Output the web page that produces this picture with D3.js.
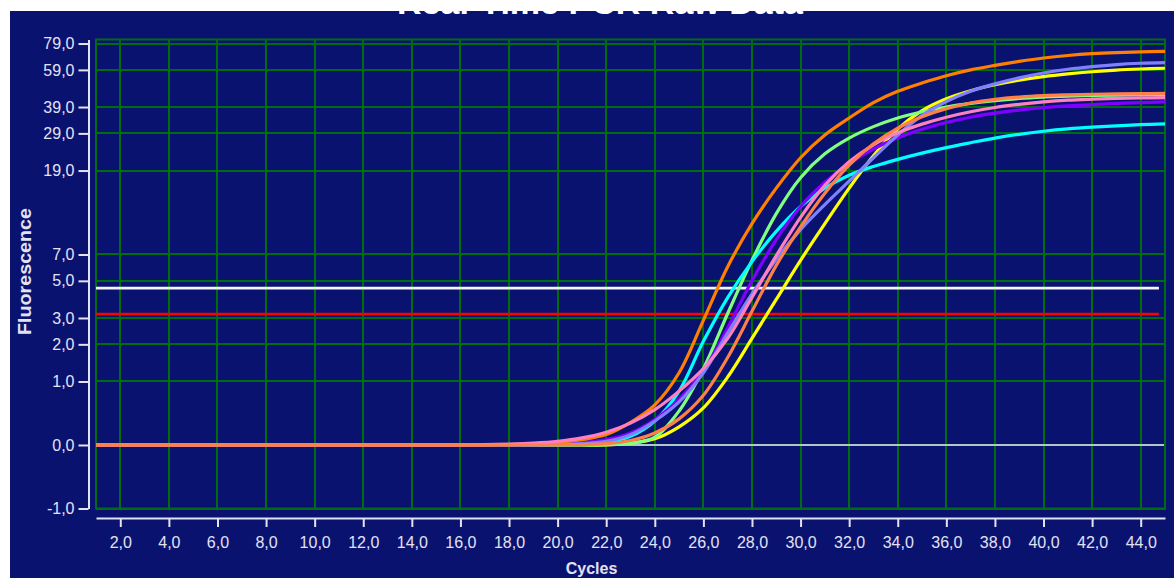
<!DOCTYPE html>
<html>
<head>
<meta charset="utf-8">
<script src="https://cdn.jsdelivr.net/npm/d3@7"></script>
<style>
  html, body { margin: 0; padding: 0; background: #ffffff; }
  svg { display: block; font-family: "Liberation Sans", Arial, sans-serif; }
</style>
</head>
<body>
<script>
// Amplification run: raw fluorescence per cycle for eight wells
const cycles = d3.range(1, 46);

const orange = [0,0,0,0,0,0,0,0,0,0,0,0,0,0,0,0,0,
  0.005,0.01,0.03,0.06,0.12,0.28,0.55,1.2,2.9,6.0,10.2,15.5,22,28.5,34.5,41,46.5,51,55.3,59,62,64.8,67.3,69.2,70.6,71.5,72.1,72.5];
const cyan = [0,0,0,0,0,0,0,0,0,0,0,0,0,0,0,0,0,0,0,
  0.003,0.01,0.03,0.1,0.3,0.8,2.1,4.0,6.4,9.3,12.5,15.5,18,19.9,21.6,23.2,24.7,26.1,27.5,28.7,29.7,30.5,31.1,31.6,32,32.3];
const purple = [0,0,0,0,0,0,0,0,0,0,0,0,0,0,0,0,0,0,
  0.005,0.01,0.025,0.06,0.14,0.32,0.65,1.25,2.6,5.0,8.4,12.5,16.6,20.6,24.3,27.6,30.4,32.8,34.8,36.4,37.7,38.7,39.5,40.1,40.6,41,41.3];
const pink = [0,0,0,0,0,0,0,0,0,0,0,0,0,0,0,0,
  0.005,0.01,0.02,0.04,0.08,0.15,0.27,0.47,0.8,1.3,2.2,4.0,6.9,11,16,21,25.5,29.2,32.2,34.8,37,38.8,40.2,41.3,42.1,42.6,43,43.2,43.3];
const violet = [0,0,0,0,0,0,0,0,0,0,0,0,0,0,0,0,0,0,0,
  0.005,0.015,0.04,0.12,0.3,0.6,1.2,2.4,4.2,6.6,9.5,12.8,16.8,22,28.5,35.5,41.5,46.5,50.5,54,57,59.4,61.2,62.6,63.5,64];
const yellow = [0,0,0,0,0,0,0,0,0,0,0,0,0,0,0,0,0,0,0,0,0,0,
  0.02,0.07,0.22,0.5,1.1,2.2,3.9,6.5,10.2,15.5,22.5,30.5,37.5,42.8,46.8,50,52.6,54.7,56.4,57.8,58.9,59.6,60.1];
const coral = [0,0,0,0,0,0,0,0,0,0,0,0,0,0,0,0,0,0,0,0,
  0.005,0.015,0.05,0.14,0.33,0.72,1.6,3.3,6.1,9.8,14.6,20.2,25.8,30.8,35,38.3,40.8,42.5,43.6,44.3,44.7,45,45.2,45.3,45.4];
const green = [0,0,0,0,0,0,0,0,0,0,0,0,0,0,0,0,0,0,0,0,0,
  0.005,0.02,0.09,0.45,1.3,3.2,6.5,11.5,17.5,23,27.5,31.3,34.5,37,39,40.6,41.9,42.9,43.6,44.1,44.4,44.6,44.8,44.9];

// drawing order, bottom to top
const seriesValues = [yellow, green, cyan, purple, violet, orange, pink, coral];
const seriesColors = ["#ffff00", "#80ff80", "#00ffff", "#8000ff", "#8080ff", "#ff8000", "#ff80c0", "#ff7f48"];

const xTicks = [2,4,6,8,10,12,14,16,18,20,22,24,26,28,30,32,34,36,38,40,42,44];
const yTicks = [-1,0,1,2,3,5,7,19,29,39,59,79];

// threshold levels and where their lines stop
const whiteThreshold = 4.54;
const redThreshold = 3.18;
const thresholdEndCycle = 44.75;

const W = 1174, H = 578;
const navy = "#0a1270";
const gridColor = "#006c10";
const axisColor = "#e2e2f2";

const svg = d3.select("body").append("svg").attr("width", W).attr("height", H);

svg.append("rect").attr("x", 10).attr("y", 11).attr("width", W - 10).attr("height", H - 11).attr("fill", navy);

// title, mostly cut off by the top of the panel
svg.append("clipPath").attr("id", "panelClip")
  .append("rect").attr("x", 10).attr("y", 11).attr("width", W - 10).attr("height", 40);
svg.append("text")
  .attr("clip-path", "url(#panelClip)")
  .attr("x", 600).attr("y", 13.5)
  .attr("text-anchor", "middle")
  .attr("font-weight", "bold").attr("font-size", 32)
  .attr("textLength", 406).attr("lengthAdjust", "spacingAndGlyphs")
  .attr("fill", "#ffffff")
  .text("Real-Time PCR Raw Data");

const x = d3.scaleLinear().domain([1, 45]).range([96, 1165]);
const y = d3.scaleSymlog().constant(1).domain([-1, 82.6]).range([508.5, 39.5]);

const locale = d3.formatLocale({ decimal: ",", thousands: ".", grouping: [3], currency: ["", ""], minus: "-" });
const fmt = locale.format(".1f");

// grid
const grid = svg.append("g").attr("stroke", gridColor).attr("stroke-width", 2).attr("fill", "none");
grid.selectAll("line.v").data(xTicks).join("line").attr("class", "v")
  .attr("x1", d => Math.round(x(d))).attr("x2", d => Math.round(x(d)))
  .attr("y1", y.range()[1]).attr("y2", y.range()[0]);
grid.selectAll("line.h").data(yTicks).join("line").attr("class", "h")
  .attr("x1", x.range()[0]).attr("x2", x.range()[1])
  .attr("y1", d => Math.round(y(d))).attr("y2", d => Math.round(y(d)));
grid.append("rect")
  .attr("x", x.range()[0]).attr("y", y.range()[1])
  .attr("width", x.range()[1] - x.range()[0]).attr("height", y.range()[0] - y.range()[1]);

// zero baseline
svg.append("line")
  .attr("x1", x(1)).attr("x2", x(45) - 1)
  .attr("y1", y(0)).attr("y2", y(0))
  .attr("stroke", "#e8e8ff").attr("stroke-width", 1.6);

// thresholds
svg.append("line")
  .attr("x1", x(1)).attr("x2", x(thresholdEndCycle))
  .attr("y1", y(whiteThreshold)).attr("y2", y(whiteThreshold))
  .attr("stroke", "#f4f4ff").attr("stroke-width", 2.6);
svg.append("line")
  .attr("x1", x(1)).attr("x2", x(thresholdEndCycle))
  .attr("y1", y(redThreshold)).attr("y2", y(redThreshold))
  .attr("stroke", "#ff0000").attr("stroke-width", 2.6);

// amplification curves
const line = d3.line()
  .x((d, i) => x(cycles[i]))
  .y(d => y(d))
  .curve(d3.curveCatmullRom.alpha(0.5));

svg.append("g").selectAll("path").data(seriesValues).join("path")
  .attr("d", d => line(d))
  .attr("fill", "none")
  .attr("stroke", (d, i) => seriesColors[i])
  .attr("stroke-width", 3.2)
  .attr("stroke-linejoin", "round");

// axes
const yAxis = svg.append("g").attr("transform", "translate(88.5,0)")
  .call(d3.axisLeft(y).tickValues(yTicks).tickFormat(fmt).tickSize(10).tickSizeOuter(0).tickPadding(4));
const xAxis = svg.append("g").attr("transform", "translate(0,518)")
  .call(d3.axisBottom(x).tickValues(xTicks).tickFormat(fmt).tickSize(9).tickSizeOuter(0).tickPadding(10));

[yAxis, xAxis].forEach(g => {
  g.select(".domain").attr("stroke", axisColor).attr("stroke-width", 2);
  g.selectAll(".tick line").attr("stroke", axisColor).attr("stroke-width", 2);
  g.selectAll(".tick text").attr("fill", axisColor).attr("font-size", 16)
    .attr("font-family", "'Liberation Sans', Arial, sans-serif");
});

// axis titles
svg.append("text")
  .attr("transform", "translate(25,271.5) rotate(-90)")
  .attr("text-anchor", "middle").attr("dominant-baseline", "central")
  .attr("font-weight", "bold").attr("font-size", 18)
  .attr("textLength", 127).attr("lengthAdjust", "spacingAndGlyphs")
  .attr("fill", axisColor)
  .text("Fluorescence");
svg.append("text")
  .attr("x", 591.5).attr("y", 574)
  .attr("text-anchor", "middle")
  .attr("font-weight", "bold").attr("font-size", 16)
  .attr("fill", axisColor)
  .text("Cycles");
</script>
</body>
</html>
